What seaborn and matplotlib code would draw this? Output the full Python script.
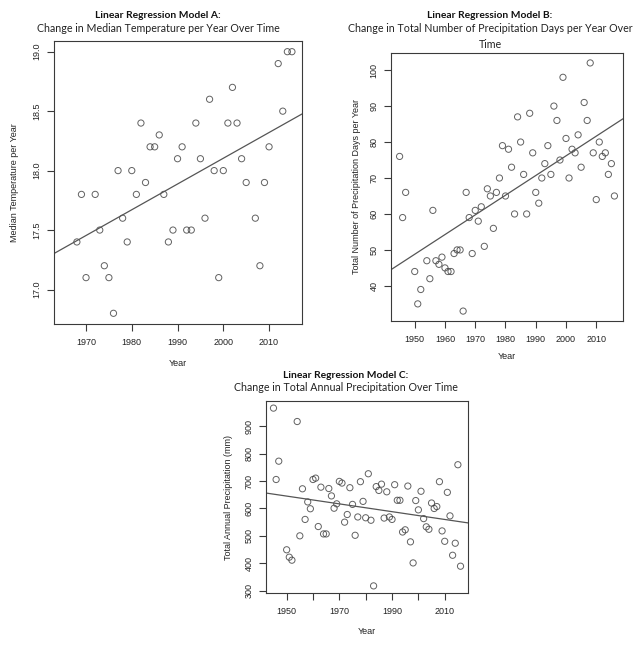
import matplotlib
matplotlib.use("Agg")
import matplotlib.pyplot as plt
import seaborn as sns
import numpy as np
import pandas as pd

# ---------------- data ----------------
years_a = [1968, 1969, 1970, 1972, 1973, 1974, 1975, 1976, 1977, 1978, 1979, 1980,
           1981, 1982, 1983, 1984, 1985, 1986, 1987, 1988, 1989, 1990, 1991, 1992,
           1993, 1994, 1995, 1996, 1997, 1998, 1999, 2000, 2001, 2002, 2003, 2004,
           2005, 2007, 2008, 2009, 2010, 2012, 2013, 2014, 2015]
temp_a = [17.4, 17.8, 17.1, 17.8, 17.5, 17.2, 17.1, 16.8, 18.0, 17.6, 17.4, 18.0,
          17.8, 18.4, 17.9, 18.2, 18.2, 18.3, 17.8, 17.4, 17.5, 18.1, 18.2, 17.5,
          17.5, 18.4, 18.1, 17.6, 18.6, 18.0, 17.1, 18.0, 18.4, 18.7, 18.4, 18.1,
          17.9, 17.6, 17.2, 17.9, 18.2, 18.9, 18.5, 19.0, 19.0]

years_b = [1945, 1946, 1947, 1950, 1951, 1952, 1954, 1955, 1956, 1957, 1958, 1959,
           1960, 1961, 1962, 1963, 1964, 1965, 1966, 1967, 1968, 1969, 1970, 1971,
           1972, 1973, 1974, 1975, 1976, 1977, 1978, 1979, 1980, 1981, 1982, 1983,
           1984, 1985, 1986, 1987, 1988, 1989, 1990, 1991, 1992, 1993, 1994, 1995,
           1996, 1997, 1998, 1999, 2000, 2001, 2002, 2003, 2004, 2005, 2006, 2007,
           2008, 2009, 2010, 2011, 2012, 2013, 2014, 2015, 2016]
days_b = [76, 59, 66, 44, 35, 39, 47, 42, 61, 47, 46, 48,
          45, 44, 44, 49, 50, 50, 33, 66, 59, 49, 61, 58,
          62, 51, 67, 65, 56, 66, 70, 79, 65, 78, 73, 60,
          87, 80, 71, 60, 88, 77, 66, 63, 70, 74, 79, 71,
          90, 86, 75, 98, 81, 70, 78, 77, 82, 73, 91, 86,
          102, 77, 64, 80, 76, 77, 71, 74, 65]

years_c = [1945, 1946, 1947, 1950, 1951, 1952, 1954, 1955, 1956, 1957, 1958, 1959,
           1960, 1961, 1962, 1963, 1964, 1965, 1966, 1967, 1968, 1969, 1970, 1971,
           1972, 1973, 1974, 1975, 1976, 1977, 1978, 1979, 1980, 1981, 1982, 1983,
           1984, 1985, 1986, 1987, 1988, 1989, 1990, 1991, 1992, 1993, 1994, 1995,
           1996, 1997, 1998, 1999, 2000, 2001, 2002, 2003, 2004, 2005, 2006, 2007,
           2008, 2009, 2010, 2011, 2012, 2013, 2014, 2015, 2016]
precip_c = [967, 706, 773, 449, 422, 411, 918, 500, 672, 560, 624, 599,
            706, 711, 534, 678, 507, 507, 673, 646, 601, 617, 699, 693,
            550, 578, 676, 615, 502, 569, 698, 626, 566, 727, 557, 317,
            680, 666, 689, 565, 661, 569, 560, 687, 630, 630, 514, 522,
            682, 478, 401, 629, 595, 663, 563, 533, 524, 620, 600, 607,
            698, 518, 480, 659, 573, 429, 473, 760, 389]

title_a = "Linear Regression Model A:"
sub_a = "Change in Median Temperature per Year Over Time"
title_b = "Linear Regression Model B:"
sub_b = "Change in Total Number of Precipitation Days per Year Over\nTime"
title_c = "Linear Regression Model C:"
sub_c = "Change in Total Annual Precipitation Over Time"

# ---------------- style ----------------
sns.set_theme(style="ticks")
plt.rcParams['font.family'] = ['Liberation Sans', 'DejaVu Sans']
INK = "#3a3a3a"
plt.rcParams.update({
    "axes.edgecolor": INK,
    "axes.linewidth": 0.8,
    "xtick.color": INK,
    "ytick.color": INK,
    "xtick.labelcolor": "#222222",
    "ytick.labelcolor": "#222222",
    "xtick.major.size": 5,
    "ytick.major.size": 5,
    "xtick.major.width": 0.8,
    "ytick.major.width": 0.8,
    "xtick.labelsize": 6.5,
    "ytick.labelsize": 6.5,
    "axes.labelsize": 6.5,
    "axes.labelcolor": "#222222",
})

W, H = 640, 646
fig = plt.figure(figsize=(W / 100, H / 100), dpi=100)
fig.patch.set_facecolor("white")


def add_ax(l, t, r, b):
    return fig.add_axes([l / W, 1 - b / H, (r - l) / W, (b - t) / H])


def panel(ax, x, y, xname, yname, xlim, ylim, xticks, xlabels, yticks, yfmt,
          ylabel, xlpad=10, ylpad=10):
    df = pd.DataFrame({xname: x, yname: y})
    ax.set_xlim(*xlim)
    ax.set_ylim(*ylim)
    sns.regplot(data=df, x=xname, y=yname, ax=ax, ci=None, truncate=False,
                scatter_kws=dict(s=20, facecolors="none", edgecolors=INK, linewidths=0.7),
                line_kws=dict(color="#555555", lw=0.9))
    ax.set_xlim(*xlim)
    ax.set_ylim(*ylim)
    for s in ax.spines.values():
        s.set_visible(True)
    ax.set_xticks(xticks)
    ax.set_xticklabels(xlabels)
    ax.set_yticks(yticks)
    ax.set_yticklabels([yfmt.format(v) for v in yticks], rotation=90, va="center")
    ax.tick_params(axis="x", pad=5)
    ax.tick_params(axis="y", pad=4)
    ax.set_xlabel("Year", labelpad=xlpad)
    ax.set_ylabel(ylabel, labelpad=ylpad)


# Panel A
axA = add_ax(54, 41, 302, 324)
panel(axA, years_a, temp_a, "Year", "Temp", (1963.0, 2017.2), (16.71, 19.09),
      [1970, 1980, 1990, 2000, 2010], ["1970", "1980", "1990", "2000", "2010"],
      [17.0, 17.5, 18.0, 18.5, 19.0], "{:.1f}", "Median Temperature per Year",
      xlpad=9, ylpad=10)

# Panel B
axB = add_ax(391, 53, 623, 321)
panel(axB, years_b, days_b, "Year", "Days", (1942.16, 2018.84), (30.24, 104.76),
      [1950, 1960, 1970, 1980, 1990, 2000, 2010],
      ["1950", "1960", "1970", "1980", "1990", "2000", "2010"],
      [40, 50, 60, 70, 80, 90, 100], "{:d}", "Total Number of Precipitation Days per Year",
      xlpad=6, ylpad=6)

# Panel C
axC = add_ax(266, 401, 468, 593)
panel(axC, years_c, precip_c, "Year", "Precip", (1942.16, 2018.84), (291, 993),
      [1950, 1960, 1970, 1980, 1990, 2000, 2010],
      ["1950", "", "1970", "", "1990", "", "2010"],
      [300, 400, 500, 600, 700, 800, 900], "{:d}", "Total Annual Precipitation (mm)",
      xlpad=8, ylpad=8)

# Titles (figure-level, centred over each figure region)
TF = ['Lato', 'DejaVu Sans']
def titles(cx, ty, sy, t, s):
    fig.text(cx / W, 1 - ty / H, t, ha="center", va="center", fontsize=7.4,
             fontweight="bold", family=TF, color="#111111")
    fig.text(cx / W, 1 - sy / H, s, ha="center", va="top", fontsize=7.7,
             family=TF, color="#222222", linespacing=1.45)

titles(158, 15, 23.5, title_a, sub_a)
titles(490, 15, 23.5, title_b, sub_b)
titles(346, 375, 382, title_c, sub_c)

fig.savefig("out.png", dpi=100, facecolor="white")
